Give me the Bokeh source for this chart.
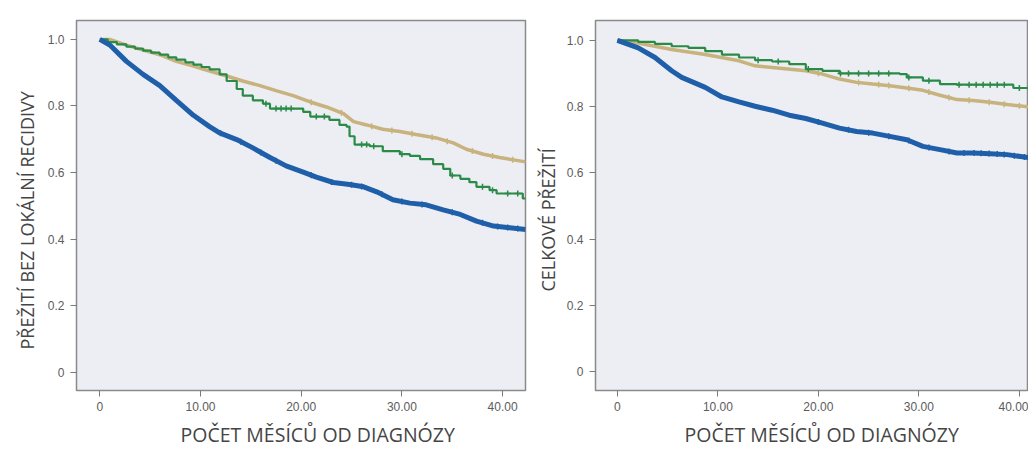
import numpy as np
from bokeh.plotting import figure
from bokeh.layouts import row
from bokeh.models import FixedTicker, Range1d, Title, PrintfTickFormatter
from bokeh.embed import file_html
from bokeh.resources import INLINE

# ---------------- data ----------------
x_ticks = [0, 10, 20, 30, 40]
y_ticks = [0, 0.2, 0.4, 0.6, 0.8, 1.0]

x_label = "POČET MĚSÍCŮ OD DIAGNÓZY"
left_ylabel = "PŘEŽITÍ BEZ LOKÁLNÍ RECIDIVY"
right_ylabel = "CELKOVÉ PŘEŽITÍ"

# left panel: local-recurrence-free survival
lf_blue_t = [0, 1.0, 2.65, 4.3, 5.96, 7.6, 9.3, 10.9, 11.9, 13.6, 15.2, 16.9, 18.5, 20.2, 21.5,
             23.2, 24.8, 26.2, 27.5, 29.1, 30.8, 32.4, 34.1, 35.8, 37.4, 39.1, 40.7, 42.3]
lf_blue_s = [1.0, 0.983, 0.934, 0.895, 0.861, 0.817, 0.772, 0.738, 0.719, 0.699, 0.674, 0.645, 0.62, 0.601, 0.586,
             0.57, 0.564, 0.557, 0.542, 0.518, 0.508, 0.503, 0.488, 0.474, 0.454, 0.439, 0.434, 0.429]

lf_tan_t = [0, 1.0, 2.65, 4.3, 5.96, 7.6, 9.3, 10.9, 12.6, 14.2, 15.9, 17.5, 19.2, 20.9, 22.5, 24.2,
            25.2, 26.5, 28.1, 29.8, 31.4, 33.4, 35.1, 36.4, 38.1, 39.7, 42.3]
lf_tan_s = [1.0, 1.0, 0.983, 0.968, 0.954, 0.934, 0.92, 0.905, 0.89, 0.875, 0.861, 0.846, 0.831, 0.812, 0.797, 0.777,
            0.753, 0.743, 0.73, 0.723, 0.714, 0.704, 0.689, 0.67, 0.655, 0.645, 0.632]

lf_green_t = [0, 0.8, 1.7, 2.65, 3.5, 4.3, 5.1, 5.96, 6.8, 7.6, 8.5, 9.3, 10.1, 10.9, 11.9, 12.6, 13.6,
              14.2, 15.2, 16.2, 16.9, 20.2, 20.9, 22.8, 23.8, 24.5, 24.8, 25.3, 26.8, 28.1, 29.8, 30.8,
              31.8, 33.1, 34.1, 34.8, 35.8, 36.7, 37.4, 38.7, 39.4, 42.0, 42.3]
lf_green_s = [1.0, 0.992, 0.985, 0.978, 0.972, 0.966, 0.960, 0.954, 0.946, 0.939, 0.931, 0.924, 0.917, 0.91,
              0.895, 0.875, 0.851, 0.831, 0.817, 0.807, 0.792, 0.782, 0.768, 0.758, 0.743, 0.738, 0.709,
              0.684, 0.679, 0.664, 0.655, 0.65, 0.64, 0.625, 0.611, 0.591, 0.581, 0.571, 0.557, 0.547,
              0.537, 0.522, 0.522]

lf_blue_cens = [12, 14, 16, 17.5, 21, 23, 25, 26, 28, 30, 32, 35, 38, 39.5, 40.5, 41.5]
lf_tan_cens = [21, 24, 27, 29, 31, 33, 34.5, 37, 39, 41]
lf_green_cens = [16.5, 17.5, 18.0, 18.5, 19.0, 21.5, 22.3, 26.0, 26.5, 27.2, 30.0, 35.0, 38.0, 39.0, 40.5, 41.5]

# right panel: overall survival
rt_blue_t = [0, 2.07, 3.74, 5.4, 6.4, 8.74, 10.4, 12.1, 13.7, 15.4, 17.1, 18.75, 20.4, 22.1, 23.8,
             25.4, 27.1, 28.8, 30.4, 32.1, 33.8, 35.4, 37.1, 38.8, 41.1]
rt_blue_s = [1.0, 0.977, 0.948, 0.908, 0.888, 0.858, 0.829, 0.814, 0.801, 0.789, 0.774, 0.764, 0.75, 0.735, 0.725,
             0.72, 0.71, 0.70, 0.68, 0.67, 0.66, 0.66, 0.658, 0.655, 0.645]

rt_tan_t = [0, 2.07, 5.4, 8.74, 12.1, 13.7, 15.4, 18.75, 20.4, 22.1, 23.8, 25.4, 27.1, 28.8, 30.4,
            32.1, 33.8, 35.4, 37.1, 38.8, 41.1]
rt_tan_s = [1.0, 0.992, 0.972, 0.957, 0.938, 0.923, 0.918, 0.908, 0.898, 0.883, 0.873, 0.868, 0.863, 0.856, 0.849,
            0.834, 0.821, 0.818, 0.813, 0.806, 0.799]

rt_green_t = [0, 2.07, 3.74, 5.4, 7.07, 8.74, 10.4, 12.1, 13.7, 15.4, 17.1, 18.75, 20.4, 22.1,
              28.1, 28.8, 30.4, 32.1, 33.8, 39.4, 41.1]
rt_green_s = [1.0, 0.995, 0.989, 0.982, 0.977, 0.967, 0.957, 0.948, 0.94, 0.936, 0.928, 0.913, 0.908, 0.90,
              0.898, 0.888, 0.878, 0.868, 0.866, 0.856, 0.85]

rt_blue_cens = [20, 23, 25, 27, 29, 31, 33, 34.5, 35.5, 36.2, 37, 37.8, 38.5, 39.5, 40.5]
rt_tan_cens = [20, 24, 26, 27, 29, 31, 33, 35, 37, 38.5, 40]
rt_green_cens = [14, 16, 19, 22.2, 23, 24, 25, 26, 27, 29, 31, 34, 35, 35.7, 36.4, 37.1, 37.8, 38.5, 40]

# ---------------- style ----------------
BLUE = "#1f5faa"
GREEN = "#2a8a47"
TAN = "#c8b27e"
BG = "#eceef3"
FRAME = "#8a8a8a"
TICK_FONT = "Liberation Sans"
LABEL_FONT = "Open Sans"
LABEL_COLOR = "#454545"


def step_value(t, s, tc):
    idx = np.searchsorted(np.asarray(t), tc, side="right") - 1
    return [s[i] for i in idx]


def make_fig(width, mbl, mbr, mbt, mbb, xr, yr):
    p = figure(width=width, height=453, x_range=Range1d(*xr), y_range=Range1d(*yr),
               output_backend="svg", toolbar_location=None,
               min_border_left=mbl, min_border_right=mbr,
               min_border_top=mbt, min_border_bottom=mbb)
    p.background_fill_color = BG
    p.border_fill_color = "white"
    p.outline_line_color = FRAME
    p.outline_line_width = 1.5
    p.grid.visible = False
    p.xaxis.ticker = FixedTicker(ticks=x_ticks)
    p.yaxis.ticker = FixedTicker(ticks=y_ticks)
    p.xaxis.formatter = PrintfTickFormatter(format="%.2f")
    p.yaxis.formatter = PrintfTickFormatter(format="%.1f")
    p.xaxis.major_label_overrides = {0: "0"}
    p.yaxis.major_label_overrides = {0: "0"}
    for ax in (p.xaxis[0], p.yaxis[0]):
        ax.axis_line_color = None
        ax.major_tick_out = 6
        ax.major_tick_in = 0
        ax.minor_tick_out = 0
        ax.minor_tick_in = 0
        ax.major_tick_line_color = "#7a7a7a"
        ax.major_label_text_font = TICK_FONT
        ax.major_label_text_font_size = "12px"
        ax.major_label_text_color = "#5c5c5c"
    p.xaxis.major_label_standoff = 5
    p.yaxis.major_label_standoff = 6
    return p


def add_label(p, text, side, size, offset, standoff):
    p.add_layout(Title(text=text, align="left", offset=offset, standoff=standoff,
                       text_font=LABEL_FONT, text_font_size=size, text_font_style="normal",
                       text_color=LABEL_COLOR), side)


def draw(p, t, s, tc, color, lw, stepped):
    if stepped:
        p.step(t, s, mode="after", line_color=color, line_width=lw)
        yc = step_value(t, s, tc)
    else:
        p.line(t, s, line_color=color, line_width=lw)
        yc = list(np.interp(tc, t, s))
    p.scatter(tc, yc, marker="cross", size=6, line_color=color, line_width=1.5)


left = make_fig(530, 76, 5, 15, 60, (-2.31, 42.27), (-0.055, 1.0568))
add_label(left, left_ylabel, "left", "18px", 41, 11)
add_label(left, x_label, "below", "19.5px", 104, 11)
draw(left, lf_tan_t, lf_tan_s, lf_tan_cens, TAN, 3.5, False)
draw(left, lf_green_t, lf_green_s, lf_green_cens, GREEN, 2.2, True)
draw(left, lf_blue_t, lf_blue_s, lf_blue_cens, BLUE, 5, False)

right = make_fig(498, 64, 0, 20, 59, (-2.18, 40.91), (-0.0567, 1.0597))
add_label(right, right_ylabel, "left", "18px", 99, 7)
add_label(right, x_label, "below", "19.5px", 89, 11)
draw(right, rt_tan_t, rt_tan_s, rt_tan_cens, TAN, 3.5, False)
draw(right, rt_green_t, rt_green_s, rt_green_cens, GREEN, 2.2, True)
draw(right, rt_blue_t, rt_blue_s, rt_blue_cens, BLUE, 5, False)

layout = row(left, right)
open("out.html", "w").write(file_html(layout, INLINE))
